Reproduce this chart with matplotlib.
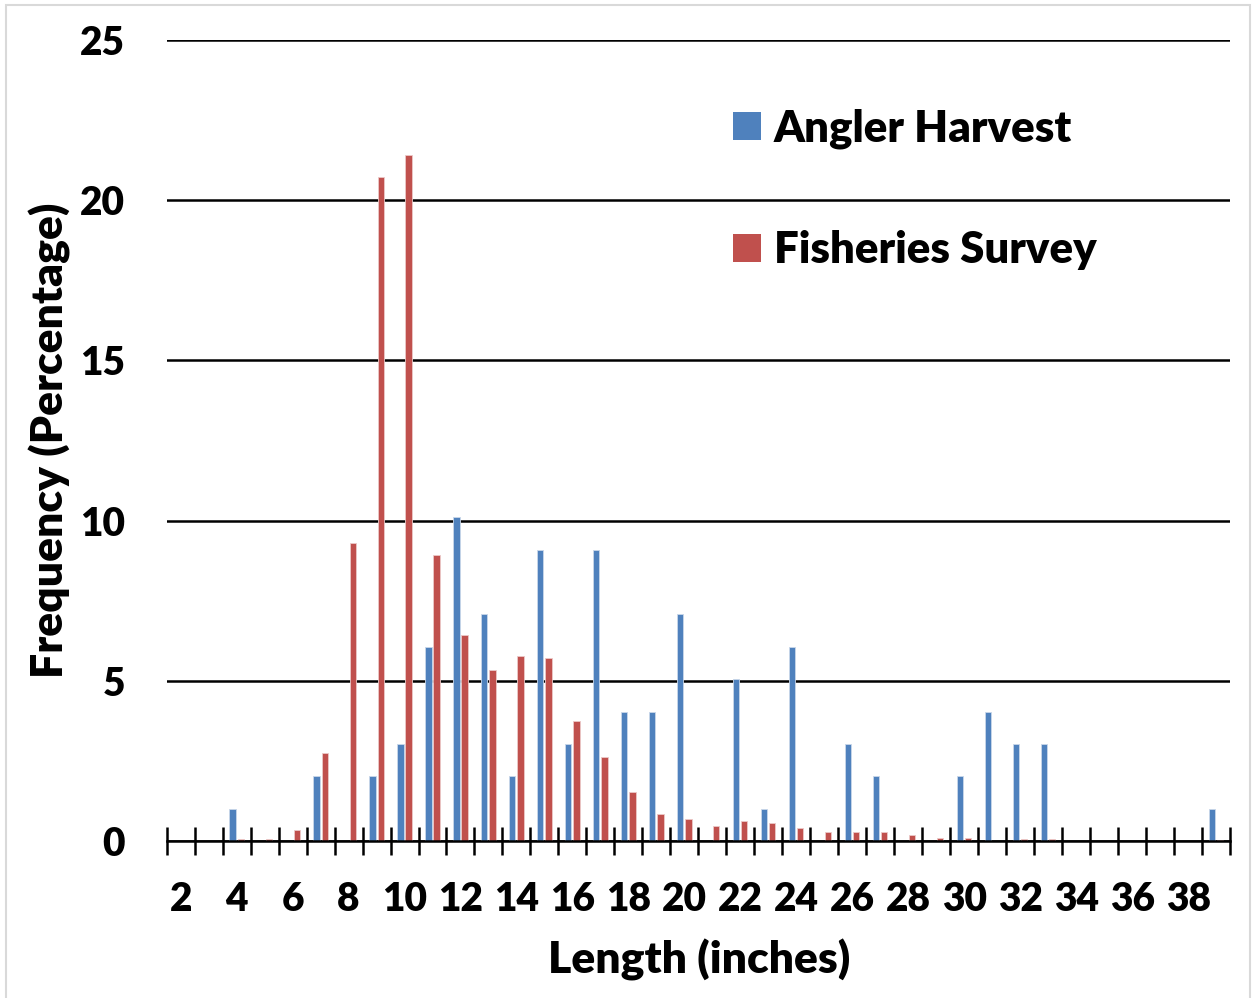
import numpy as np
import matplotlib
matplotlib.use("Agg")
import matplotlib.pyplot as plt
from matplotlib.patches import Patch, Rectangle

plt.rcParams['font.family'] = ['Lato', 'DejaVu Sans']
plt.rcParams['font.weight'] = 'heavy'

# length classes in inches
lengths = list(range(2, 40))
# percent of fish in each length class
angler = [0, 0, 1.01, 0, 0, 2.02, 0, 2.02, 3.03, 6.06, 10.1, 7.07, 2.02, 9.09,
          3.03, 9.09, 4.04, 4.04, 7.07, 0, 5.05, 1.01, 6.06, 0, 3.03, 2.02,
          0, 0, 2.02, 4.04, 3.03, 3.03, 0, 0, 0, 0, 0, 1.01]
survey = [0, 0, 0.05, 0.05, 0.33, 2.76, 9.31, 20.73, 21.41, 8.93, 6.43, 5.33,
          5.76, 5.70, 3.74, 2.61, 1.52, 0.83, 0.69, 0.47, 0.62, 0.56, 0.42,
          0.28, 0.27, 0.28, 0.19, 0.09, 0.10, 0, 0.05, 0.05, 0, 0, 0, 0, 0, 0.02]

blue = '#4F81BD'
red = '#C0504D'

fig = plt.figure(figsize=(12.53, 9.98), dpi=100)
ax = fig.add_axes([0.133, 0.1573, 0.8487, 0.8026])

x = np.arange(len(lengths))
w = 0.22
ax.bar(x - 0.145, angler, w, color=blue, edgecolor='#c9d7ea', linewidth=0.6, zorder=3)
ax.bar(x + 0.145, survey, w, color=red, edgecolor='#ecc9c8', linewidth=0.6, zorder=3)

ax.set_xlim(-0.5, len(lengths) - 0.5)
ax.set_ylim(0, 25)
ax.set_yticks([0, 5, 10, 15, 20, 25])
ax.yaxis.grid(True, color='black', linewidth=1.8, zorder=1)
ax.tick_params(axis='y', length=0, pad=30, labelsize=28)

# labels on every other class, boundary ticks crossing the axis
ax.set_xticks(x[::2])
ax.set_xticklabels([str(v) for v in lengths[::2]])
ax.set_xticks(np.arange(-0.5, len(lengths)), minor=True)
ax.tick_params(axis='x', which='major', length=0, pad=29, labelsize=28)
ax.tick_params(axis='x', which='minor', direction='inout', length=20, width=1.8, color='black')

for s in ['top', 'right', 'left']:
    ax.spines[s].set_visible(False)
ax.spines['bottom'].set_linewidth(1.8)
ax.spines['bottom'].set_zorder(4)

handles = [Patch(facecolor=blue, label='Angler Harvest'),
           Patch(facecolor=red, label='Fisheries Survey')]
ax.legend(handles=handles, loc='upper left', bbox_to_anchor=(0.533, 0.915),
          frameon=False, fontsize=31.5, handlelength=0.62, handleheight=0.62,
          handletextpad=0.3, labelspacing=1.87, borderaxespad=0, borderpad=0)

fig.text(699 / 1253, 1 - 960 / 998, 'Length (inches)', ha='center', va='center',
         fontsize=32)
fig.text(50 / 1253, 1 - 440 / 998, 'Frequency (Percentage)', ha='center', va='center',
         rotation=90, fontsize=32)

# light chart border
fig.patches.append(Rectangle((6 / 1253, -0.01), 1244 / 1253, 1 - 5 / 998 + 0.01,
                             transform=fig.transFigure, fill=False,
                             edgecolor='#d9d9d9', linewidth=1.5))

fig.savefig('out.png', dpi=100)
